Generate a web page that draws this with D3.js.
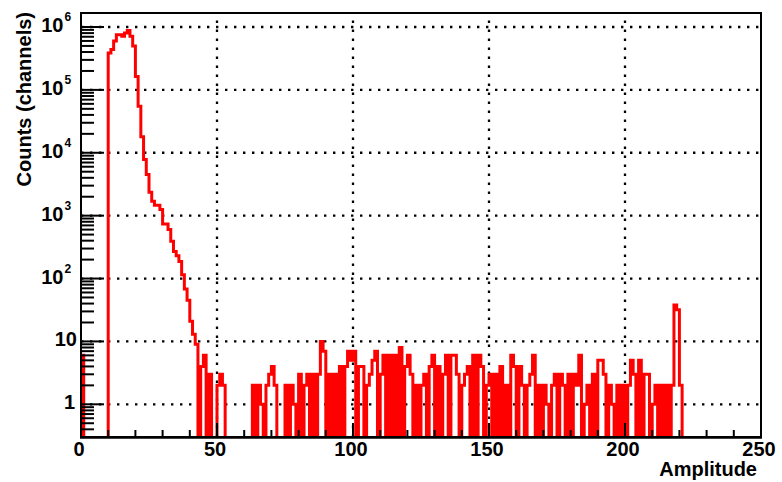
<!DOCTYPE html>
<html>
<head>
<meta charset="utf-8">
<script src="https://cdn.jsdelivr.net/npm/d3@7"></script>
<style>
  html, body { margin: 0; padding: 0; background: #ffffff; }
  svg { display: block; }
  text { font-family: "Liberation Sans", Arial, Helvetica, sans-serif; font-weight: bold; fill: #000; }
</style>
</head>
<body>
<svg id="chart" width="782" height="482"></svg>
<script>
// Amplitude spectrum, one channel per amplitude unit (channel i covers [i, i+1)).
const amplitudeDomain = [0, 250];

// channels 0-9: pedestal
const pedestalCounts = [6, 0, 0, 0, 0, 0, 0, 0, 0, 0];

// channels 10-62: main peak and its falling edge
const peakCounts = [
  385000, 440000, 600000, 755000, 755000, 710000, 800000, 880000, 710000, 500000,
  164000, 55000, 18000, 7800, 4500, 2350, 1700, 1460, 1460, 1250,
  740, 740, 600, 390, 270, 230, 187, 115, 68, 45,
  21, 13, 9, 0, 4, 6, 0, 3, 0, 0,
  2, 3, 2, 0, 0, 0, 0, 0, 0, 0,
  0, 0, 0
];

// channels 63-249: flat background and the line near 219
const tailCounts = [
  2, 0, 2, 1, 0, 2, 3, 4, 2, 0,
  0, 0, 2, 0, 2, 1, 0, 3, 0, 2,
  3, 0, 3, 0, 3, 10, 7, 0, 3, 0,
  3, 0, 4, 0, 4, 7, 5, 7, 0, 4,
  4, 0, 2, 3, 5, 7, 0, 3, 6, 0,
  6, 0, 6, 0, 8, 0, 4, 6, 3, 0,
  2, 0, 2, 3, 0, 4, 6, 0, 4, 0,
  3, 6, 0, 6, 6, 3, 0, 2, 3, 4,
  0, 6, 0, 6, 4, 0, 2, 3, 0, 3,
  0, 4, 0, 2, 0, 6, 4, 0, 4, 2,
  0, 2, 3, 6, 0, 2, 0, 2, 1, 0,
  2, 3, 0, 3, 2, 0, 3, 0, 3, 2,
  6, 0, 1, 2, 0, 3, 0, 5, 5, 3,
  0, 2, 1, 0, 2, 0, 2, 0, 2, 5,
  3, 0, 5, 0, 3, 3, 0, 1, 2, 0,
  2, 0, 2, 0, 2, 38, 32, 2, 0, 0,
  0, 0, 0, 0, 0, 0, 0, 0, 0, 0,
  0, 0, 0, 0, 0, 0, 0, 0, 0, 0,
  0, 0, 0, 0, 0, 0, 0
];

// axis labelling
const xTickValues = [0, 50, 100, 150, 200, 250];
const xGridValues = [50, 100, 150, 200];
const yDecadeExponents = [0, 1, 2, 3, 4, 5, 6];
const yDomain = [0.302, 1.67e6];
const xTitle = "Amplitude";
const yTitle = "Counts (channels)";

const counts = pedestalCounts.concat(peakCounts, tailCounts);

const frame = { left: 81, right: 761, top: 13, bottom: 437 };
const svg = d3.select("#chart");

const x = d3.scaleLinear().domain(amplitudeDomain).range([frame.left, frame.right]);
const y = d3.scaleLog().domain(yDomain).range([frame.bottom, frame.top]);

svg.append("defs").append("clipPath").attr("id", "frameClip")
  .append("rect")
  .attr("x", frame.left).attr("y", frame.top)
  .attr("width", frame.right - frame.left).attr("height", frame.bottom - frame.top);

// dotted grid
const grid = svg.append("g")
  .attr("stroke", "#000").attr("stroke-width", 2.3)
  .attr("stroke-dasharray", "2.4,6.6").attr("fill", "none");
yDecadeExponents.forEach(k => {
  const yy = y(Math.pow(10, k));
  grid.append("line").attr("x1", frame.left).attr("x2", frame.right)
    .attr("y1", yy).attr("y2", yy);
});
xGridValues.forEach(v => {
  grid.append("line").attr("x1", x(v)).attr("x2", x(v))
    .attr("y1", frame.bottom).attr("y2", frame.top);
});

// histogram outline; empty channels drop below the frame
const floorY = frame.bottom + 6;
const level = c => (c > 0 ? y(c) : floorY);
const pts = [[x(0), floorY]];
counts.forEach((c, i) => {
  pts.push([x(i), level(c)]);
  pts.push([x(i + 1), level(c)]);
});
pts.push([x(counts.length), floorY]);

svg.append("path")
  .attr("clip-path", "url(#frameClip)")
  .attr("d", d3.line()(pts))
  .attr("fill", "none")
  .attr("stroke", "#ff0000")
  .attr("stroke-width", 3)
  .attr("stroke-linejoin", "miter");

// ticks (drawn inside the frame)
const ticks = svg.append("g").attr("stroke", "#000").attr("stroke-width", 2);
y.ticks().filter(v => v >= yDomain[0] && v <= yDomain[1]).forEach(v => {
  const isDecade = Math.abs(Math.log10(v) - Math.round(Math.log10(v))) < 1e-9;
  const yy = y(v);
  ticks.append("line").attr("x1", frame.left).attr("x2", frame.left + (isDecade ? 23 : 13))
    .attr("y1", yy).attr("y2", yy);
});
d3.range(amplitudeDomain[0], amplitudeDomain[1] + 1, 10).forEach(v => {
  const major = v % 50 === 0;
  ticks.append("line").attr("x1", x(v)).attr("x2", x(v))
    .attr("y1", frame.bottom).attr("y2", frame.bottom - (major ? 14 : 7));
});

// frame
svg.append("rect")
  .attr("x", frame.left).attr("y", frame.top)
  .attr("width", frame.right - frame.left).attr("height", frame.bottom - frame.top)
  .attr("fill", "none").attr("stroke", "#000").attr("stroke-width", 2);
svg.append("line").attr("x1", frame.left - 1).attr("x2", frame.right + 1)
  .attr("y1", frame.bottom + 0.4).attr("y2", frame.bottom + 0.4)
  .attr("stroke", "#000").attr("stroke-width", 2.6);

// x tick labels
xTickValues.forEach(v => {
  svg.append("text").attr("x", x(v) - 2).attr("y", 456)
    .attr("text-anchor", "middle").attr("font-size", 20).text(v);
});

// y tick labels: 1, 10, then 10 with exponent
yDecadeExponents.forEach(k => {
  const yy = y(Math.pow(10, k));
  if (k === 0) {
    svg.append("text").attr("x", 75).attr("y", yy + 5)
      .attr("text-anchor", "end").attr("font-size", 20).text("1");
  } else if (k === 1) {
    svg.append("text").attr("x", 77).attr("y", yy + 5)
      .attr("text-anchor", "end").attr("font-size", 20).text("10");
  } else {
    svg.append("text").attr("x", 63.5).attr("y", yy + 5)
      .attr("text-anchor", "end").attr("font-size", 20).text("10");
    svg.append("text").attr("x", 64.5).attr("y", yy - 6)
      .attr("text-anchor", "start").attr("font-size", 12).text(k);
  }
});

// axis titles
svg.append("text").attr("x", 757).attr("y", 476)
  .attr("text-anchor", "end").attr("font-size", 20).text(xTitle);
svg.append("text").attr("transform", "translate(31,12) rotate(-90)")
  .attr("text-anchor", "end").attr("font-size", 20).text(yTitle);
</script>
</body>
</html>
